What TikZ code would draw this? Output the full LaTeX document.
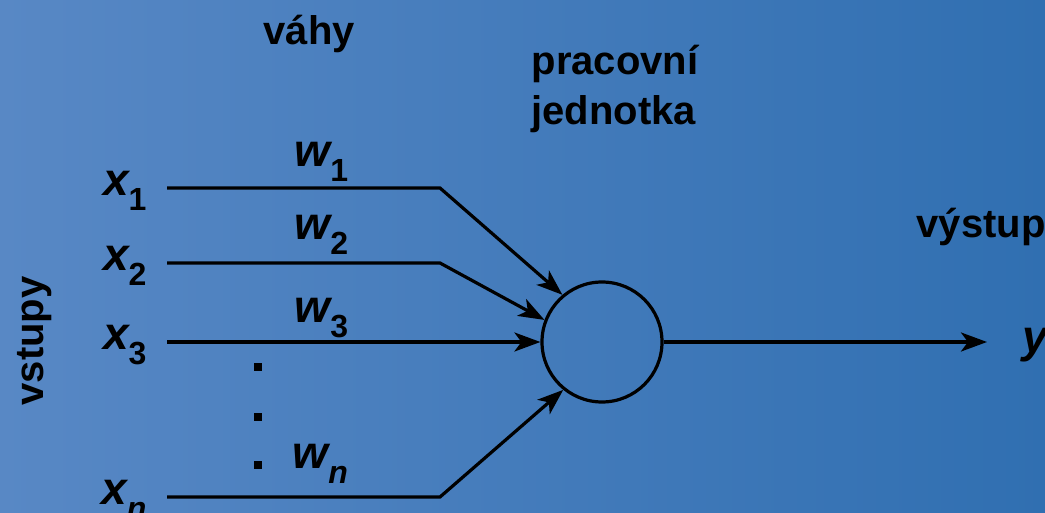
\documentclass[tikz,border=0pt]{standalone}
\usepackage{fontspec}
\setmainfont{Liberation Sans}
\usetikzlibrary{arrows.meta,positioning}
\definecolor{bgleft}{RGB}{88,136,197}
\definecolor{bgright}{RGB}{48,111,177}
\newcommand{\varsub}[2]{{\fontsize{46}{46}\selectfont\itshape #1}\raisebox{-15pt}{\fontsize{32}{32}\selectfont #2}}

\begin{document}
\begin{tikzpicture}[x=1pt,y=-1pt,line width=3.2pt,
                    >={Stealth[length=26pt,width=19pt,inset=7pt]},
                    font=\fontsize{40}{50}\selectfont\bfseries]
  \tikzstyle{every node}=[inner sep=0pt,text=black]
  \tikzstyle{inp}=[yshift=-3pt]

  \shade[left color=bgleft,right color=bgright] (0,0) rectangle (1045,513);
  \useasboundingbox (0,0) rectangle (1045,513);

  \node[circle,draw,minimum size=120pt] (unit) at (602,342) {};

  \coordinate (s1) at (167,188);
  \coordinate (s2) at (167,263);
  \coordinate (s3) at (167,342);
  \coordinate (sn) at (167,497);
  \coordinate (k1) at (440,188);
  \coordinate (k2) at (440,263);
  \coordinate (kn) at (440,497);
  \coordinate (out) at (987,342);

  \node[inp,left=19pt of s1] (x1) {\varsub{x}{1}};
  \node[inp,left=19pt of s2] (x2) {\varsub{x}{2}};
  \node[inp,left=19pt of s3] (x3) {\varsub{x}{3}};
  \node[inp,left=19pt of sn] (xn) {\varsub{x}{\itshape n}};

  \node[anchor=base west] (w1) at (293,167) {\varsub{w}{1}};
  \node[anchor=base west] (w2) at (293,240) {\varsub{w}{2}};
  \node[anchor=base west] (w3) at (293,323) {\varsub{w}{3}};
  \node[anchor=base west] (wn) at (291,468) {\varsub{w}{\itshape n}};

  \node[anchor=base west] (vahy) at (262,45) {váhy};
  \node[anchor=base west,align=left] (prac) at (530,125) {pracovní\\jednotka};
  \node[anchor=base west] (vystup) at (915,238) {výstup};
  \node[rotate=90] (vstupy) at (35,341) {vstupy};
  \node[inp,right=34pt of out] (y) {\fontsize{46}{46}\selectfont\itshape y};

  \fill (254,363) rectangle (262,371);
  \fill (254,413) rectangle (262,421);
  \fill (254,461) rectangle (262,469);

  \draw[->] (s1) -- (k1) -- (unit.130);
  \draw[->] (s2) -- (k2) -- (unit.159);
  \draw[->] (s3) -- (unit.west);
  \draw[->] (sn) -- (kn) -- (unit.231);
  \draw[->] (unit) -- (out);
\end{tikzpicture}
\end{document}
